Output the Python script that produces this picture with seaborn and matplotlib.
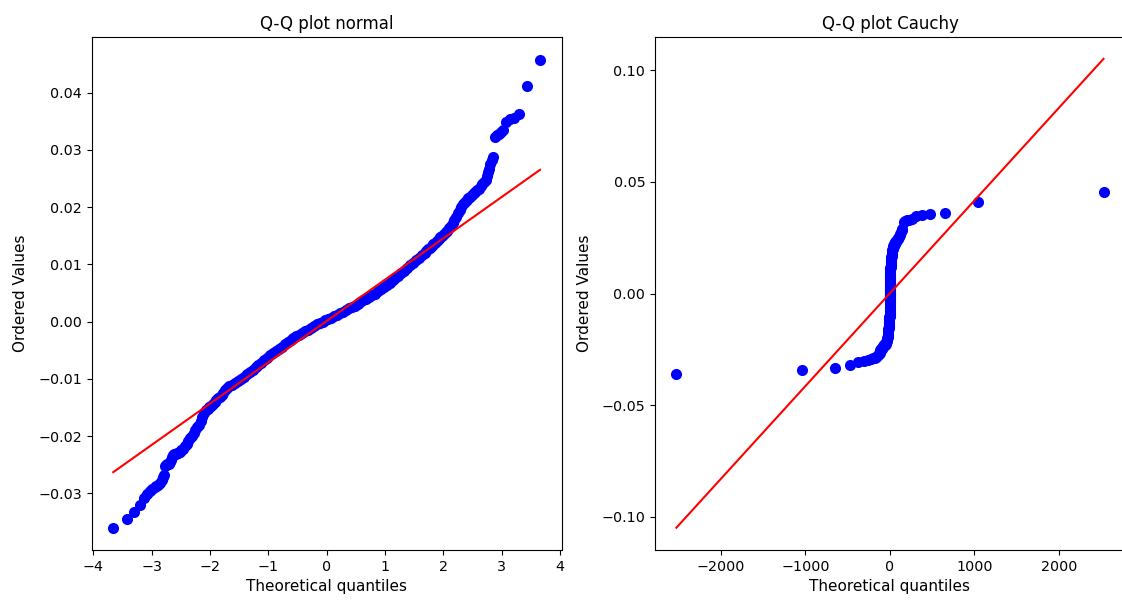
import matplotlib
matplotlib.use("Agg")
import matplotlib.pyplot as plt
import matplotlib.ticker as mticker
import seaborn as sns

# Ordered sample values (shared by both panels), with theoretical quantiles
normal_q = [
    -3.66, -3.43, -3.30, -3.21, -3.14, -3.08, -3.03, -2.99, -2.95, -2.92, -2.89, -2.86, -2.83, -2.81, -2.79,
    -2.77, -2.75, -2.73, -2.71, -2.69, -2.67, -2.65, -2.63, -2.61, -2.59, -2.57, -2.55, -2.52, -2.49, -2.46,
    -2.43, -2.40, -2.37, -2.34, -2.31, -2.28, -2.25, -2.22, -2.19, -2.16, -2.13, -2.10, -2.07, -2.04, -2.01,
    -1.98, -1.95, -1.92, -1.89, -1.86, -1.83, -1.80, -1.77, -1.74, -1.71,
    -1.67, -1.62, -1.57, -1.52, -1.47, -1.42, -1.37, -1.32, -1.27, -1.22, -1.17, -1.12, -1.07, -1.02,
    -0.97, -0.92, -0.87, -0.82, -0.77, -0.72, -0.67, -0.62, -0.57, -0.52, -0.47, -0.42, -0.37, -0.32,
    -0.27, -0.22, -0.17, -0.12, -0.07, -0.02, 0.03, 0.08, 0.13, 0.18, 0.23, 0.28, 0.33, 0.38, 0.43,
    0.48, 0.53, 0.58, 0.63, 0.68, 0.73, 0.78, 0.83, 0.88, 0.93, 0.98, 1.03, 1.08, 1.13, 1.18, 1.23,
    1.28, 1.33, 1.38, 1.43, 1.48, 1.53, 1.58, 1.63, 1.68,
    1.71, 1.74, 1.77, 1.80, 1.83, 1.86, 1.89, 1.92, 1.95, 1.98, 2.01, 2.04, 2.07, 2.10, 2.13, 2.16,
    2.19, 2.22, 2.25, 2.28, 2.31, 2.34, 2.37, 2.40, 2.43, 2.46, 2.49, 2.52, 2.55, 2.58, 2.61, 2.64,
    2.67, 2.70, 2.73, 2.75, 2.77, 2.79, 2.81, 2.83, 2.85,
    2.89, 2.92, 2.95, 2.99, 3.03, 3.08, 3.14, 3.21, 3.30, 3.43, 3.66,
]

cauchy_q = [
    -2526, -1040, -653, -475, -374, -308, -262, -228, -201, -180, -164, -150, -138, -128, -120,
    -113.6, -106.8, -100.5, -94.6, -89.1, -83.9, -79.1, -74.6, -70.3, -66.3, -62.6, -59.1, -54.2, -49.8, -45.8,
    -42.2, -38.8, -35.8, -33.0, -30.5, -28.2, -26.0, -24.1, -22.3, -20.7, -19.2, -17.8, -16.5, -15.4, -14.3,
    -13.3, -12.4, -11.6, -10.8, -10.1, -9.5, -8.8, -8.3, -7.7, -7.3,
    -6.7, -6.0, -5.4, -4.9, -4.4, -4.0, -3.7, -3.3, -3.0, -2.8, -2.5, -2.3, -2.1, -1.9,
    -1.7, -1.5, -1.4, -1.2, -1.1, -1.0, -0.9, -0.8, -0.7, -0.6, -0.6, -0.5, -0.4, -0.4,
    -0.3, -0.3, -0.2, -0.1, -0.1, 0.0, 0.0, 0.1, 0.2, 0.2, 0.3, 0.4, 0.4, 0.5, 0.5,
    0.6, 0.6, 0.7, 0.8, 0.9, 1.0, 1.1, 1.3, 1.4, 1.6, 1.7, 1.9, 2.1, 2.3, 2.6, 2.8,
    3.1, 3.4, 3.7, 4.1, 4.5, 5.0, 5.5, 6.1, 6.8,
    7.3, 7.7, 8.3, 8.8, 9.5, 10.1, 10.8, 11.6, 12.4, 13.3, 14.3, 15.4, 16.5, 17.8, 19.2, 20.7,
    22.3, 24.1, 26.0, 28.2, 30.5, 33.0, 35.8, 38.8, 42.2, 45.8, 49.8, 54.2, 59.1, 64.4, 70.3, 76.8,
    83.9, 91.8, 100.5, 106.8, 113.6, 120.8, 128.5, 136.8, 145.6,
    164, 180, 201, 228, 262, 308, 374, 475, 653, 1040, 2526,
]

ordered_values = [
    -0.0361, -0.0345, -0.0332, -0.0320, -0.0309, -0.0302, -0.0296, -0.0292, -0.0289, -0.0288, -0.0286, -0.0282, -0.0277, -0.0272, -0.0268,
    -0.0252, -0.0250, -0.0249, -0.0248, -0.0246, -0.0241, -0.0236, -0.0233, -0.0232, -0.0231, -0.0230, -0.0230, -0.0228, -0.0225, -0.0222,
    -0.0218, -0.0214, -0.0209, -0.0204, -0.0200, -0.0195, -0.0190, -0.0185, -0.0180, -0.0173, -0.0166, -0.0160, -0.0155, -0.0152, -0.0149,
    -0.0147, -0.0144, -0.0141, -0.0137, -0.0134, -0.0131, -0.0128, -0.0124, -0.0119, -0.0116,
    -0.0113, -0.0110, -0.0107, -0.0103, -0.0100, -0.0096, -0.0092, -0.0088, -0.0084, -0.0080, -0.0076, -0.0072, -0.0068, -0.0064,
    -0.0059, -0.0055, -0.0051, -0.0048, -0.0044, -0.0040, -0.0036, -0.0032, -0.0029, -0.0026, -0.0023, -0.0020, -0.0017, -0.0014,
    -0.0011, -0.0008, -0.0005, -0.0003, 0.0000, 0.0002, 0.0005, 0.0007, 0.0010, 0.0012, 0.0015, 0.0017, 0.0020, 0.0023, 0.0025,
    0.0028, 0.0031, 0.0034, 0.0037, 0.0040, 0.0043, 0.0046, 0.0049, 0.0053, 0.0056, 0.0060, 0.0064, 0.0068, 0.0072, 0.0076, 0.0080,
    0.0085, 0.0089, 0.0094, 0.0098, 0.0102, 0.0107, 0.0111, 0.0116, 0.0120,
    0.0123, 0.0126, 0.0129, 0.0132, 0.0135, 0.0138, 0.0141, 0.0144, 0.0147, 0.0150, 0.0153, 0.0156, 0.0159, 0.0163, 0.0167, 0.0172,
    0.0177, 0.0183, 0.0189, 0.0195, 0.0200, 0.0205, 0.0209, 0.0212, 0.0215, 0.0218, 0.0221, 0.0224, 0.0226, 0.0229, 0.0232, 0.0236,
    0.0240, 0.0244, 0.0248, 0.0254, 0.0261, 0.0267, 0.0276, 0.0283, 0.0288,
    0.0322, 0.0326, 0.0328, 0.0331, 0.0334, 0.0348, 0.0353, 0.0356, 0.0362, 0.0411, 0.0456,
]

# Fitted reference lines (end points)
normal_line_x = [-3.66, 3.66]
normal_line_y = [-0.0263, 0.0265]
cauchy_line_x = [-2526, 2526]
cauchy_line_y = [-0.1050, 0.1052]

titles = ["Q-Q plot normal", "Q-Q plot Cauchy"]
xlabel = "Theoretical quantiles"
ylabel = "Ordered Values"

fig = plt.figure(figsize=(11.22, 6), dpi=100)
ax1 = fig.add_axes([91.7 / 1122, 50 / 600, 469.9 / 1122, 513 / 600])
ax2 = fig.add_axes([655 / 1122, 50 / 600, 469.9 / 1122, 513 / 600])

marker_s = 64

sns.scatterplot(x=normal_q, y=ordered_values, ax=ax1, color="blue", s=marker_s,
                linewidth=0, zorder=2, legend=False)
sns.lineplot(x=normal_line_x, y=normal_line_y, ax=ax1, color="red", linewidth=1.5,
             zorder=3, legend=False)

sns.scatterplot(x=cauchy_q, y=ordered_values, ax=ax2, color="blue", s=marker_s,
                linewidth=0, zorder=2, legend=False)
sns.lineplot(x=cauchy_line_x, y=cauchy_line_y, ax=ax2, color="red", linewidth=1.5,
             zorder=3, legend=False)

ax1.set_xlim(-4.03, 4.03)
ax1.set_ylim(-0.0399, 0.0497)
ax1.set_xticks([-4, -3, -2, -1, 0, 1, 2, 3, 4])
ax1.set_yticks([-0.03, -0.02, -0.01, 0.00, 0.01, 0.02, 0.03, 0.04])

ax2.set_xlim(-2779, 2779)
ax2.set_ylim(-0.1150, 0.1150)
ax2.set_xticks([-2000, -1000, 0, 1000, 2000])
ax2.set_yticks([-0.10, -0.05, 0.00, 0.05, 0.10])


def fmt(v, pos):
    return ("%.2f" % v).replace("-", "\u2212")


for ax, t in zip([ax1, ax2], titles):
    ax.set_title(t, fontsize=12)
    ax.set_xlabel(xlabel, fontsize=11)
    ax.set_ylabel(ylabel, fontsize=11, labelpad=7)
    ax.tick_params(labelsize=10.3)
    ax.yaxis.set_major_formatter(mticker.FuncFormatter(fmt))

fig.savefig("out.png", dpi=100)
